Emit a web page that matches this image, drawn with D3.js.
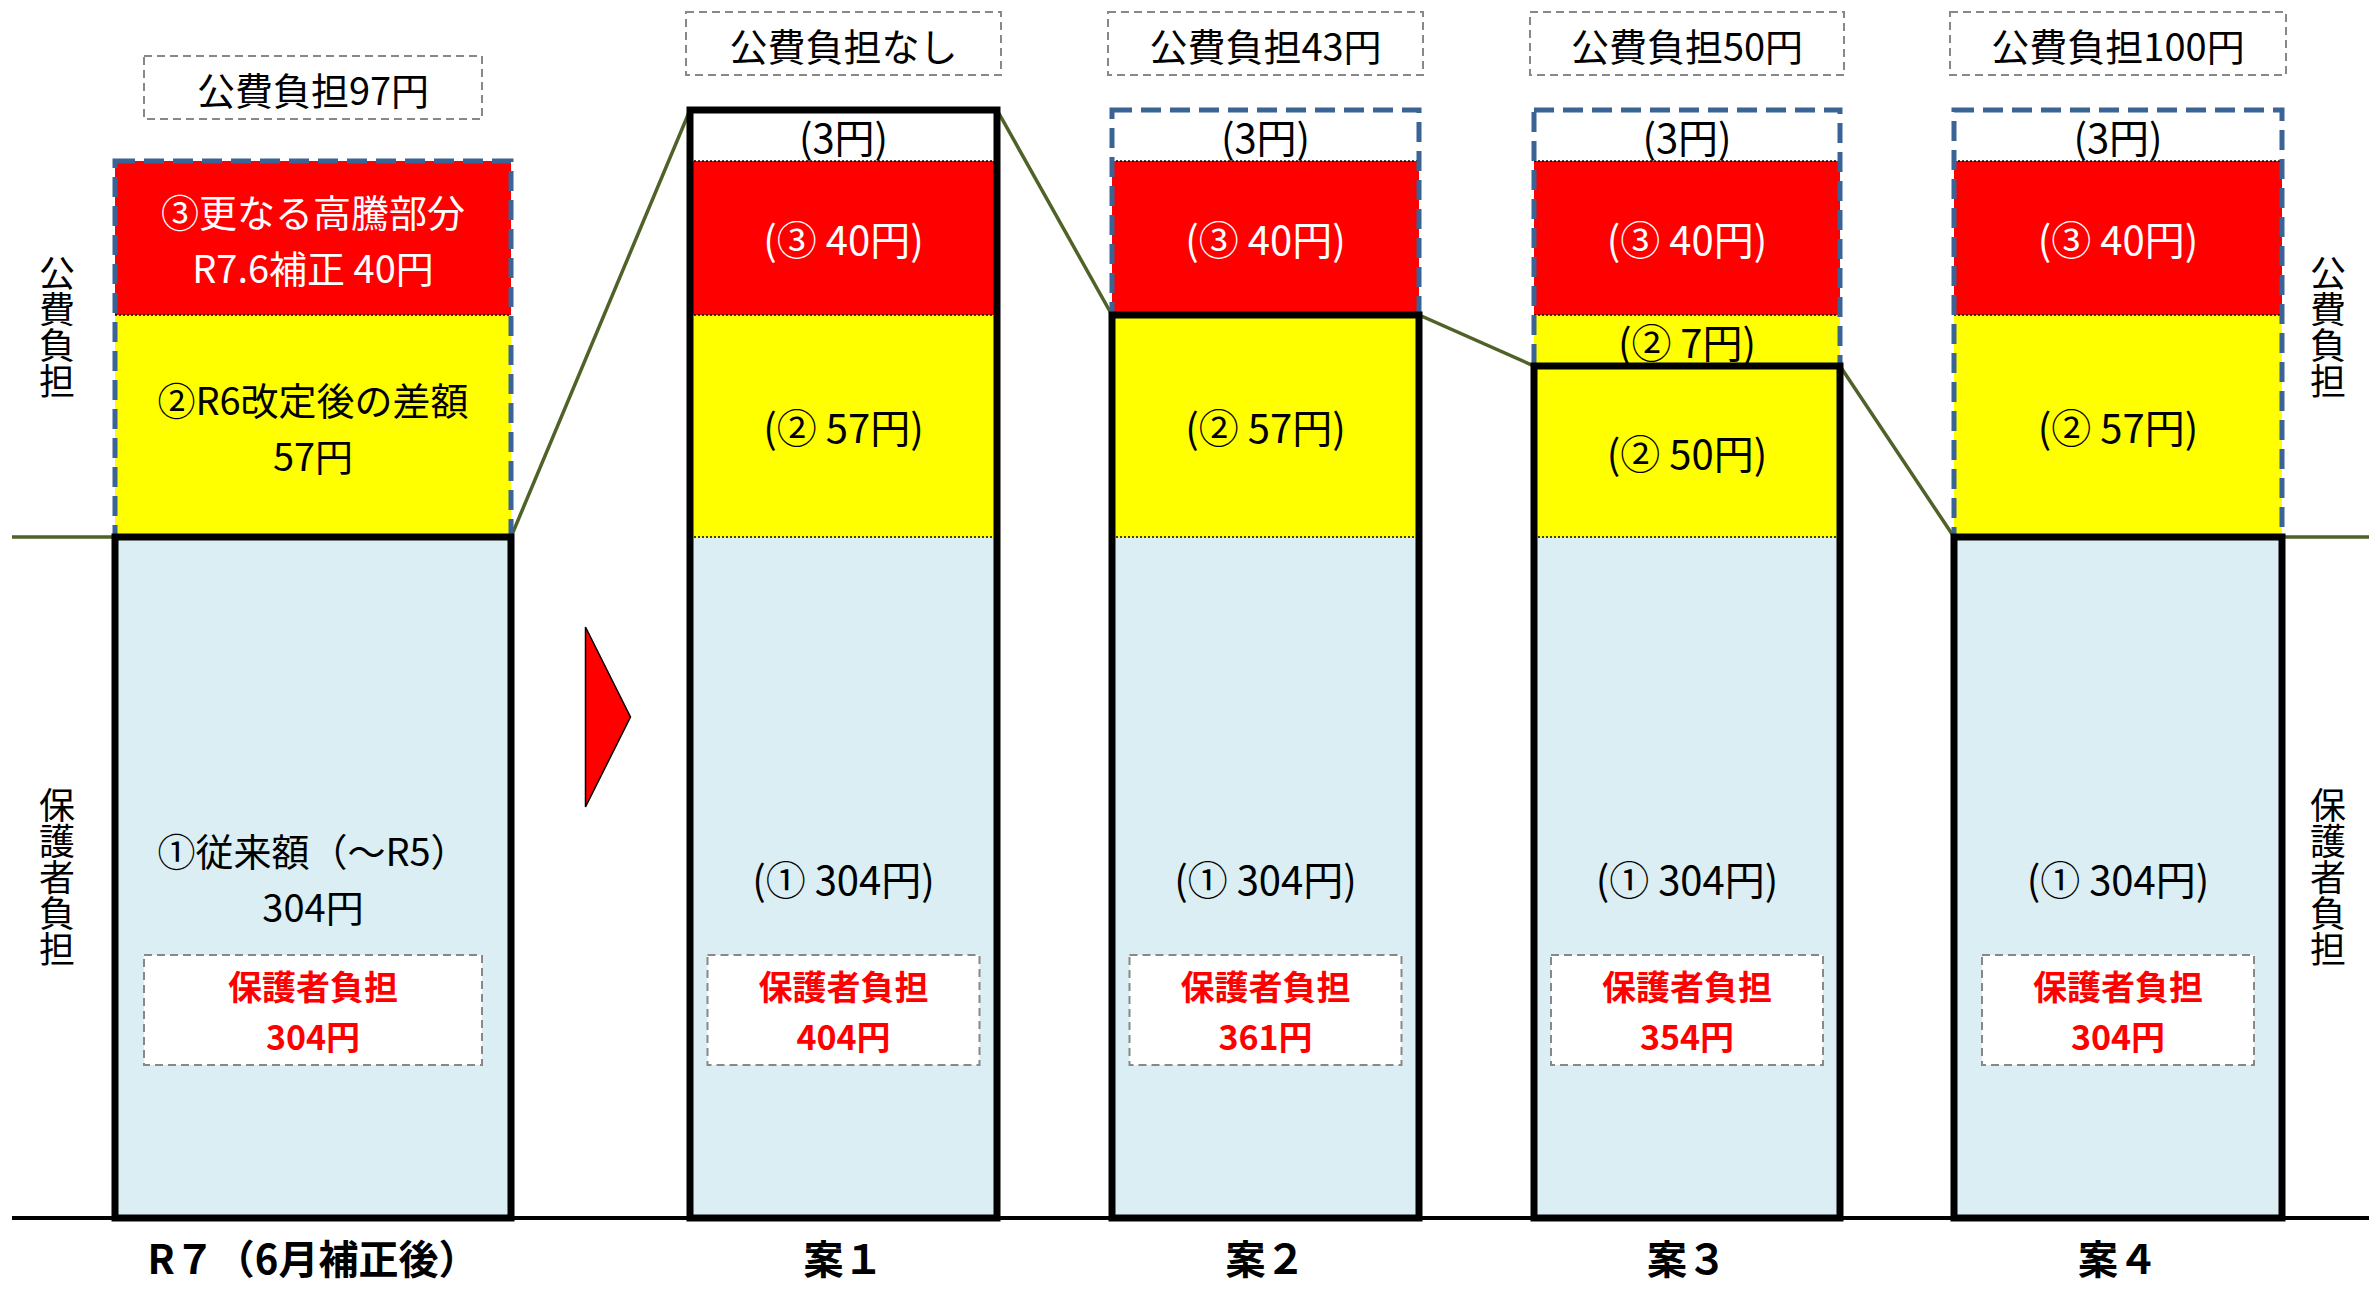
<!DOCTYPE html>
<html lang="ja">
<head>
<meta charset="utf-8">
<script src="https://cdn.jsdelivr.net/npm/d3@7"></script>
<style>
  body { margin: 0; background: #fff; }
  svg { display: block; font-family: "Noto Sans CJK JP", "Noto Sans", sans-serif; }
</style>
</head>
<body>
<svg id="chart"></svg>
<script>
// categories and values (円)
const categories = ["R７（6月補正後）", "案１", "案２", "案３", "案４"];
const seg1 = [304, 304, 304, 304, 304];   // ① 従来額
const seg2 = [57, 57, 57, 50, 57];        // ② 差額（保護者側）
const seg2b = [0, 0, 0, 7, 0];            // ② 差額（公費側、案３のみ）
const seg3 = [40, 40, 40, 40, 40];        // ③ 更なる高騰部分
const seg4 = [0, 3, 3, 3, 3];             // 3円
const parentTotal = [304, 404, 361, 354, 304];
const publicTotal = [97, 0, 43, 50, 100];
const topLabels = ["公費負担97円", "公費負担なし", "公費負担43円", "公費負担50円", "公費負担100円"];
const r7Labels = [["①従来額（～R5）", "304円"], ["②R6改定後の差額", "57円"], [], ["③更なる高騰部分", "R7.6補正 40円"], []];

const width = 2369;
const height = 1290;
const svg = d3.select("#chart").attr("width", width).attr("height", height);

const colors = { s1: "#daeef3", s2: "#ffff00", s2b: "#ffff00", s3: "#ff0000", s4: "#ffffff" };
const keys = ["s1", "s2", "s2b", "s3", "s4"];
const rows = categories.map((c, i) => ({
  cat: c, s1: seg1[i], s2: seg2[i], s2b: seg2b[i], s3: seg3[i], s4: seg4[i]
}));
const stacked = d3.stack().keys(keys)(rows);

// not proportional in the original: piecewise scale
const y = d3.scaleLinear()
  .domain([0, 304, 354, 361, 401, 404])
  .range([1218, 537, 366, 315, 161, 110]);

const xLeft = d3.scaleOrdinal().domain(categories).range([115, 690, 1112, 1534, 1954]);
const xWidth = d3.scaleOrdinal().domain(categories).range([396, 307, 307, 306, 328]);
const xMid = (c) => xLeft(c) + xWidth(c) / 2;

// green connector line
const pts = [[12, y(parentTotal[0])]];
categories.forEach((c, i) => {
  pts.push([xLeft(c), y(parentTotal[i])]);
  pts.push([xLeft(c) + xWidth(c), y(parentTotal[i])]);
});
pts.push([width, y(parentTotal[4])]);
svg.append("path")
  .attr("d", d3.line()(pts))
  .attr("fill", "none")
  .attr("stroke", "#4f6228")
  .attr("stroke-width", 3.5);

// segments
const layer = svg.selectAll(".layer").data(stacked).enter().append("g").attr("class", "layer");
layer.selectAll("rect")
  .data((d) => d.map((v) => ({ key: d.key, v, cat: v.data.cat })))
  .enter()
  .filter((d) => d.v[1] > d.v[0])
  .append("rect")
  .attr("x", (d) => xLeft(d.cat))
  .attr("width", (d) => xWidth(d.cat))
  .attr("y", (d) => y(d.v[1]))
  .attr("height", (d) => y(d.v[0]) - y(d.v[1]))
  .attr("fill", (d) => colors[d.key]);

// dotted boundaries
layer.selectAll("line")
  .data((d) => d.map((v) => ({ key: d.key, v, cat: v.data.cat })))
  .enter()
  .filter((d) => d.v[1] > d.v[0] && d.key !== "s1")
  .append("line")
  .attr("x1", (d) => xLeft(d.cat))
  .attr("x2", (d) => xLeft(d.cat) + xWidth(d.cat))
  .attr("y1", (d) => y(d.v[0]))
  .attr("y2", (d) => y(d.v[0]))
  .attr("stroke", "#000")
  .attr("stroke-width", 1.5)
  .attr("stroke-dasharray", "2,2");

// public burden: blue dashed box
svg.selectAll(".pub")
  .data(categories.filter((c, i) => publicTotal[i] > 0))
  .enter()
  .append("rect")
  .attr("class", "pub")
  .attr("x", (c) => xLeft(c))
  .attr("width", (c) => xWidth(c))
  .attr("y", (c) => { const i = categories.indexOf(c); return y(parentTotal[i] + publicTotal[i]); })
  .attr("height", (c) => { const i = categories.indexOf(c); return y(parentTotal[i]) - y(parentTotal[i] + publicTotal[i]); })
  .attr("fill", "none")
  .attr("stroke", "#3a6396")
  .attr("stroke-width", 5)
  .attr("stroke-dasharray", "20,9");

// parent burden: thick black box
svg.selectAll(".parent")
  .data(categories)
  .enter()
  .append("rect")
  .attr("class", "parent")
  .attr("x", (c) => xLeft(c))
  .attr("width", (c) => xWidth(c))
  .attr("y", (c, i) => y(parentTotal[i]))
  .attr("height", (c, i) => y(0) - y(parentTotal[i]))
  .attr("fill", "none")
  .attr("stroke", "#000")
  .attr("stroke-width", 7);

// baseline
svg.append("line")
  .attr("x1", 12).attr("x2", width)
  .attr("y1", y(0)).attr("y2", y(0))
  .attr("stroke", "#000").attr("stroke-width", 4);

// segment labels (案１〜案４)
const fmt = {
  s1: (v) => `(① ${v}円)`, s2: (v) => `(② ${v}円)`, s2b: (v) => `(② ${v}円)`,
  s3: (v) => `(③ ${v}円)`, s4: (v) => `(${v}円)`
};
layer.selectAll("text")
  .data((d) => d.map((v) => ({ key: d.key, v, cat: v.data.cat })))
  .enter()
  .filter((d) => d.v[1] > d.v[0] && d.cat !== categories[0])
  .append("text")
  .attr("x", (d) => xMid(d.cat))
  .attr("y", (d) => (y(d.v[0]) + y(d.v[1])) / 2)
  .attr("text-anchor", "middle")
  .attr("dominant-baseline", "central")
  .attr("font-size", 40)
  .attr("fill", (d) => (d.key === "s3" ? "#fff" : "#000"))
  .text((d) => fmt[d.key](d.v[1] - d.v[0]));

// R7 column labels
stacked.forEach((s, k) => {
  const lines = r7Labels[k];
  if (!lines.length) return;
  const v = s[0];
  const cy = (y(v[0]) + y(v[1])) / 2;
  svg.append("text")
    .attr("x", xMid(categories[0]))
    .attr("text-anchor", "middle")
    .attr("font-size", 38)
    .attr("fill", s.key === "s3" ? "#fff" : "#000")
    .selectAll("tspan")
    .data(lines)
    .enter()
    .append("tspan")
    .attr("x", xMid(categories[0]))
    .attr("y", (d, j) => cy + (j - 0.5) * 56)
    .attr("dominant-baseline", "central")
    .text((d) => d);
});

// top labels (gray dashed boxes)
const topG = svg.selectAll(".topbox")
  .data(categories)
  .enter()
  .append("g")
  .attr("class", "topbox");
topG.append("rect")
  .attr("x", (c, i) => (i === 0 ? xMid(c) - 169 : xLeft(c) - 4))
  .attr("width", (c, i) => (i === 0 ? 338 : xWidth(c) + 8))
  .attr("y", (c, i) => y(parentTotal[i] + publicTotal[i]) - (i === 0 ? 105 : 98))
  .attr("height", 63)
  .attr("fill", "#fff")
  .attr("stroke", "#888")
  .attr("stroke-width", 2)
  .attr("stroke-dasharray", "8,5");
topG.append("text")
  .attr("x", (c) => xMid(c))
  .attr("y", (c, i) => y(parentTotal[i] + publicTotal[i]) - (i === 0 ? 73 : 66))
  .attr("text-anchor", "middle")
  .attr("dominant-baseline", "central")
  .attr("font-size", 38)
  .attr("fill", "#000")
  .text((c, i) => topLabels[i]);

// parent burden boxes
const boxG = svg.selectAll(".pbox")
  .data(categories)
  .enter()
  .append("g")
  .attr("class", "pbox");
boxG.append("rect")
  .attr("x", (c, i) => xMid(c) - (i === 0 ? 169 : 136))
  .attr("width", (c, i) => (i === 0 ? 338 : 272))
  .attr("y", 955)
  .attr("height", 110)
  .attr("fill", "#fff")
  .attr("stroke", "#888")
  .attr("stroke-width", 2)
  .attr("stroke-dasharray", "8,5");
boxG.append("text")
  .attr("text-anchor", "middle")
  .attr("font-size", 34)
  .attr("font-weight", "bold")
  .attr("fill", "#ff0000")
  .selectAll("tspan")
  .data((c, i) => [["保護者負担", c], [`${parentTotal[i]}円`, c]])
  .enter()
  .append("tspan")
  .attr("x", (d) => xMid(d[1]))
  .attr("y", (d, j) => 985 + j * 50)
  .attr("dominant-baseline", "central")
  .text((d) => d[0]);

// category labels
svg.selectAll(".cat")
  .data(categories)
  .enter()
  .append("text")
  .attr("class", "cat")
  .attr("x", (c) => xMid(c))
  .attr("y", 1257)
  .attr("text-anchor", "middle")
  .attr("dominant-baseline", "central")
  .attr("font-size", 40)
  .attr("font-weight", "bold")
  .text((c) => c);

// side labels (vertical)
const sideLabels = [["公費負担", 327], ["保護者負担", 877]];
[57, 2328].forEach((sx) => {
  sideLabels.forEach(([t, sy]) => {
    svg.append("text")
      .attr("x", sx)
      .attr("y", sy)
      .attr("text-anchor", "middle")
      .attr("dominant-baseline", "central")
      .style("writing-mode", "vertical-rl")
      .attr("font-size", 36)
      .text(t);
  });
});

// red arrow
const ax = (xLeft(categories[0]) + xWidth(categories[0]) + xLeft(categories[1])) / 2;
svg.append("path")
  .attr("d", `M${ax - 15},627 L${ax + 30},717 L${ax - 15},807 Z`)
  .attr("fill", "#ff0000")
  .attr("stroke", "#000")
  .attr("stroke-width", 1.5);
</script>
</body>
</html>
